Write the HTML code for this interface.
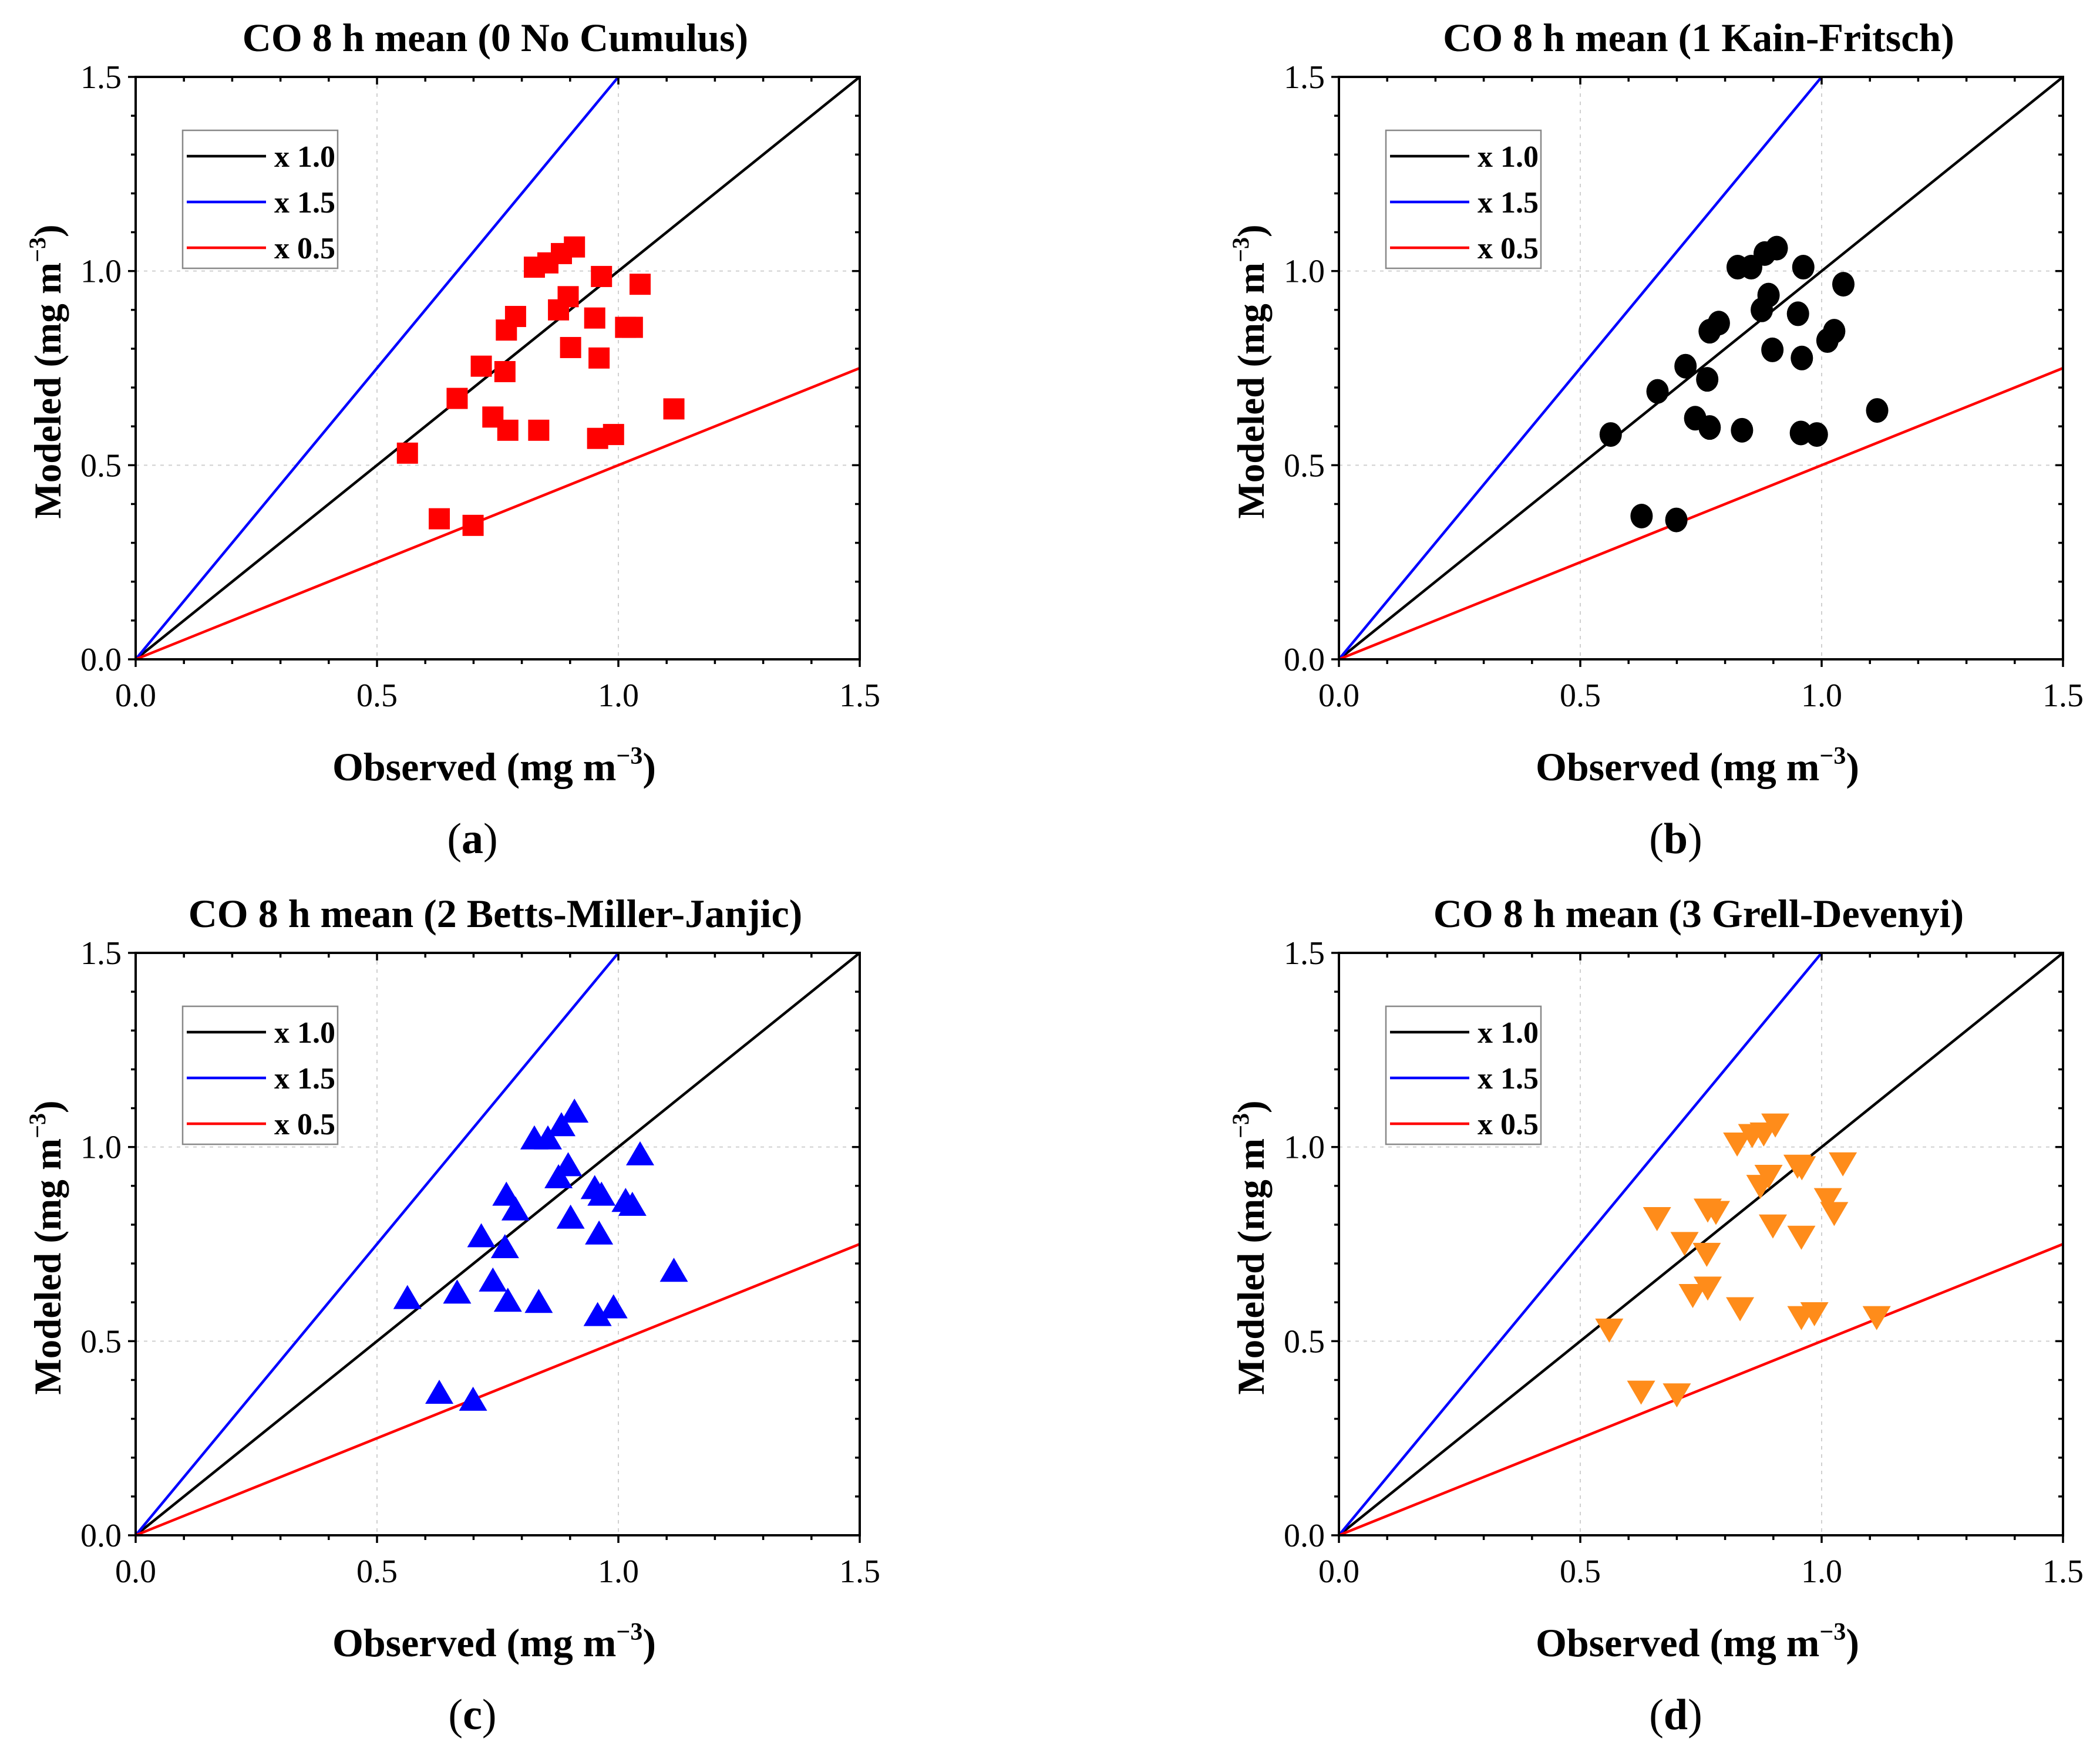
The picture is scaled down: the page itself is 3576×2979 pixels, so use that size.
<!DOCTYPE html>
<html><head><meta charset="utf-8">
<style>
html,body{margin:0;padding:0;background:#fff;}
svg{display:block;}
text{font-family:"Liberation Serif",serif;fill:#000;}
</style></head>
<body>
<svg id="fig" width="3576" height="2979" viewBox="0 0 3576 2979" xmlns="http://www.w3.org/2000/svg"></svg>
<script>
const tickValues = [0.0, 0.5, 1.0, 1.5];
const tickLabels = ["0.0", "0.5", "1.0", "1.5"];
const ratioFactors = [1.0, 1.5, 0.5];
const ratioLabels = ["x 1.0", "x 1.5", "x 0.5"];
const ratioColors = ["#000000", "#0000ff", "#ff0000"];
const panelTitles = ["CO 8 h mean (0 No Cumulus)", "CO 8 h mean (1 Kain-Fritsch)", "CO 8 h mean (2 Betts-Miller-Janjic)", "CO 8 h mean (3 Grell-Devenyi)"];
const panelLetters = ["a", "b", "c", "d"];
const obsA = [0.563,0.629,0.699,0.666,0.716,0.740,0.765,0.768,0.787,0.771,0.835,0.826,0.854,0.882,0.909,0.876,0.896,0.901,0.951,0.965,0.960,0.957,0.990,1.015,1.029,1.045,1.115];
const modA = [0.531,0.362,0.345,0.672,0.755,0.624,0.741,0.848,0.883,0.590,0.590,1.010,1.021,1.045,1.062,0.900,0.934,0.803,0.879,0.986,0.776,0.569,0.579,0.855,0.855,0.966,0.645];
const obsB = [0.563,0.627,0.699,0.660,0.718,0.738,0.763,0.768,0.787,0.768,0.835,0.826,0.854,0.882,0.907,0.876,0.890,0.898,0.951,0.962,0.959,0.957,0.990,1.012,1.026,1.045,1.115];
const modB = [0.579,0.369,0.359,0.690,0.755,0.621,0.721,0.845,0.866,0.597,0.590,1.010,1.010,1.045,1.059,0.900,0.938,0.797,0.890,1.010,0.776,0.583,0.579,0.821,0.845,0.966,0.641];
const obsC = [0.563,0.629,0.699,0.666,0.716,0.740,0.765,0.768,0.787,0.771,0.835,0.826,0.854,0.882,0.909,0.876,0.896,0.901,0.951,0.965,0.960,0.957,0.990,1.015,1.029,1.045,1.115];
const modC = [0.610,0.366,0.348,0.624,0.769,0.655,0.741,0.876,0.838,0.603,0.600,1.021,1.021,1.055,1.090,0.921,0.952,0.817,0.893,0.876,0.776,0.566,0.586,0.860,0.850,0.980,0.680];
const obsD = [0.560,0.626,0.700,0.659,0.716,0.733,0.762,0.764,0.781,0.764,0.831,0.825,0.856,0.880,0.904,0.873,0.890,0.899,0.950,0.959,0.958,0.958,0.985,1.013,1.026,1.044,1.114];
const modD = [0.531,0.371,0.364,0.818,0.754,0.620,0.726,0.840,0.834,0.639,0.586,1.010,1.032,1.036,1.059,0.901,0.927,0.799,0.953,0.949,0.770,0.563,0.573,0.867,0.831,0.959,0.563];
const seriesObs = [obsA, obsB, obsC, obsD];
const seriesMod = [modA, modB, modC, modD];

const NS = "http://www.w3.org/2000/svg";
const svg = document.getElementById("fig");
function mk(tag, attrs, parent){ const e=document.createElementNS(NS,tag); for(const k in attrs) e.setAttribute(k,attrs[k]); (parent||svg).appendChild(e); return e; }

const panelOrigins = [[231,131],[2280,131],[231,1623],[2280,1623]];
const W = 1233, H = 992, MAXV = 1.5;
const markerColors = ["#ff0000","#000000","#0000ff","#ff8c1a"];
const markerKinds = ["square","circle","triangle","down"];

panelOrigins.forEach((o, p) => {
  const x0=o[0], y0=o[1];
  const xs = v => x0 + v / MAXV * W;
  const ys = v => y0 + H - v / MAXV * H;
  const g = mk("g", {});
  
  
  tickValues.forEach(v => {
    if (v === 0 || v === MAXV) return;
    const gl1 = mk("line",{x1:xs(v),y1:y0,x2:xs(v),y2:y0+H,stroke:"#d0d0d0","stroke-width":2,"stroke-dasharray":"6 8"},g);
    
    
    const gl2 = mk("line",{x1:x0,y1:ys(v),x2:x0+W,y2:ys(v),stroke:"#d0d0d0","stroke-width":2,"stroke-dasharray":"6 8"},g);
    
    
  });
  ratioFactors.forEach((f, i) => {
    const xe = Math.min(MAXV, MAXV / f);
    const ln = mk("line",{x1:xs(0),y1:ys(0),x2:xs(xe),y2:ys(xe*f),stroke:ratioColors[i],"stroke-width":4.5},g);
    
    
  });
  const obs = seriesObs[p], mod = seriesMod[p], col = markerColors[p], kind = markerKinds[p];
  obs.forEach((ov, i) => {
    const cx = xs(ov), cy = ys(mod[i]);
    let m;
    if (kind === "square") m = mk("rect",{x:cx-18,y:cy-18,width:36,height:36,fill:col},g);
    else if (kind === "circle") m = mk("ellipse",{cx:cx,cy:cy,rx:19,ry:21,fill:col},g);
    else if (kind === "triangle") m = mk("polygon",{points:`${cx},${cy-23} ${cx-24},${cy+18} ${cx+24},${cy+18}`,fill:col},g);
    else m = mk("polygon",{points:`${cx},${cy+23} ${cx-24},${cy-18} ${cx+24},${cy-18}`,fill:col},g);
    
    
  });
  const fr = mk("rect",{x:x0,y:y0,width:W,height:H,fill:"none",stroke:"#000","stroke-width":4},g);
  
  
  for (let k=0;k<=15;k++){
    const v = k/10, major = (k%5===0), L = major?13:8;
    mk("line",{x1:xs(v),y1:y0+H,x2:xs(v),y2:y0+H+L,stroke:"#000","stroke-width":3.5},g);
    mk("line",{x1:xs(v),y1:y0,x2:xs(v),y2:y0+L,stroke:"#000","stroke-width":3.5},g);
    mk("line",{x1:x0,y1:ys(v),x2:x0-L,y2:ys(v),stroke:"#000","stroke-width":3.5},g);
    mk("line",{x1:x0+W,y1:ys(v),x2:x0+W-L,y2:ys(v),stroke:"#000","stroke-width":3.5},g);
  }
  tickValues.forEach((v, i) => {
    const tx = mk("text",{x:xs(v),y:y0+H+80,"font-size":56,"text-anchor":"middle"},g);
    tx.textContent = tickLabels[i];
    
    
    const ty = mk("text",{x:x0-24,y:ys(v)+19,"font-size":56,"text-anchor":"end"},g);
    ty.textContent = tickLabels[i];
    
    
  });
  const t = mk("text",{x:x0+W/2-4,y:y0-44,"font-size":68,"font-weight":"bold","text-anchor":"middle"},g);
  t.textContent = panelTitles[p];
  
  
  const xt = mk("text",{x:x0+W/2-6,y:y0+H+206,"font-size":68,"font-weight":"bold","text-anchor":"middle"},g);
  xt.innerHTML = 'Observed (mg m<tspan dy="-28" font-size="42">−3</tspan><tspan dy="28">)</tspan>';
  
  
  const yt = mk("text",{x:0,y:0,"font-size":65,"font-weight":"bold","text-anchor":"middle",transform:`translate(${x0-128},${y0+H/2+6}) rotate(-90)`},g);
  yt.innerHTML = 'Modeled (mg m<tspan dy="-26" font-size="40">−3</tspan><tspan dy="26">)</tspan>';
  
  
  const pl = mk("text",{x:x0+W/2-43,y:y0+H+330,"font-size":74,"text-anchor":"middle"},g);
  pl.innerHTML = '(<tspan font-weight="bold">' + panelLetters[p] + '</tspan>)';
  
  
  const lg = mk("g",{},g);
  
  
  mk("rect",{x:x0+80,y:y0+91,width:264,height:235,fill:"#fff",stroke:"#888","stroke-width":2.5},lg);
  ratioLabels.forEach((lab, i) => {
    const ry = y0 + 135 + i*78;
    const le = mk("g",{},lg);
    
    
    mk("line",{x1:x0+87,y1:ry,x2:x0+222,y2:ry,stroke:ratioColors[i],"stroke-width":4.5},le);
    const lt = mk("text",{x:x0+236,y:ry+18,"font-size":52,"font-weight":"bold"},le);
    lt.textContent = lab;
  });
});
</script>
</body></html>
